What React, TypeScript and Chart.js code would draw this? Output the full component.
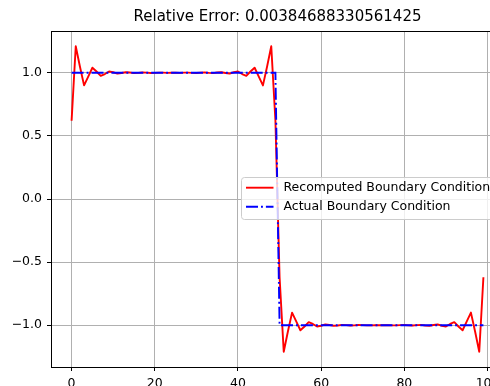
import React, { useEffect, useRef } from "react";
import { Chart, registerables } from "chart.js";

Chart.register(...registerables);

const TITLE = "Relative Error: 0.00384688330561425";
const LEGEND_LABELS = ["Recomputed Boundary Condition", "Actual Boundary Condition"];

const xPoints = [
  0, 1, 2, 3, 4, 5, 6, 7, 8, 9, 10, 11, 12, 13, 14, 15, 16, 17, 18, 19,
  20, 21, 22, 23, 24, 25, 26, 27, 28, 29, 30, 31, 32, 33, 34, 35, 36, 37, 38, 39,
  40, 41, 42, 43, 44, 45, 46, 47, 48, 49, 50, 51, 52, 53, 54, 55, 56, 57, 58, 59,
  60, 61, 62, 63, 64, 65, 66, 67, 68, 69, 70, 71, 72, 73, 74, 75, 76, 77, 78, 79,
  80, 81, 82, 83, 84, 85, 86, 87, 88, 89, 90, 91, 92, 93, 94, 95, 96, 97, 98, 99,
];

const recomputed = [
  0.62, 1.21, 1.05, 0.9, 0.97, 1.04, 1.01, 0.976, 0.99, 1.01,
  1.004, 0.994, 0.998, 1.004, 1.002, 0.997, 0.999, 1.002, 1.001, 0.998,
  0.999, 1.001, 1.001, 0.999, 1.0, 1.0, 0.999, 1.001, 1.001, 0.999,
  0.998, 1.001, 1.002, 0.999, 0.997, 1.002, 1.004, 0.998, 0.994, 1.004,
  1.01, 0.99, 0.976, 1.01, 1.04, 0.97, 0.9, 1.05, 1.21, 0.62,
  -0.62, -1.21, -1.05, -0.9, -0.97, -1.04, -1.01, -0.976, -0.99, -1.01,
  -1.004, -0.994, -0.998, -1.004, -1.002, -0.997, -0.999, -1.002, -1.001, -0.998,
  -0.999, -1.001, -1.001, -0.999, -1.0, -1.0, -0.999, -1.001, -1.001, -0.999,
  -0.998, -1.001, -1.002, -0.999, -0.997, -1.002, -1.004, -0.998, -0.994, -1.004,
  -1.01, -0.99, -0.976, -1.01, -1.04, -0.97, -0.9, -1.05, -1.21, -0.62,
];

const actual = [
  1, 1, 1, 1, 1, 1, 1, 1, 1, 1, 1, 1, 1, 1, 1, 1, 1, 1, 1, 1,
  1, 1, 1, 1, 1, 1, 1, 1, 1, 1, 1, 1, 1, 1, 1, 1, 1, 1, 1, 1,
  1, 1, 1, 1, 1, 1, 1, 1, 1, 1,
  -1, -1, -1, -1, -1, -1, -1, -1, -1, -1, -1, -1, -1, -1, -1, -1, -1, -1, -1, -1,
  -1, -1, -1, -1, -1, -1, -1, -1, -1, -1, -1, -1, -1, -1, -1, -1, -1, -1, -1, -1,
  -1, -1, -1, -1, -1, -1, -1, -1, -1, -1,
];

const xTicks = [0, 20, 40, 60, 80, 100];
const xTickLabels = ["0", "20", "40", "60", "80", "100"];
const yTicks = [-1, -0.5, 0, 0.5, 1];
const yTickLabels = ["\u22121.0", "\u22120.5", "0.0", "0.5", "1.0"];

const FONT = "'DejaVu Sans', 'Liberation Sans', sans-serif";
const RED = "#ff0000";
const BLUE = "#0000ff";
const DASHDOT = [12, 3, 1.9, 3];

const overlayPlugin = {
  id: "overlay",
  afterDraw(chart: any) {
    const ctx = chart.ctx as CanvasRenderingContext2D;
    const a = chart.chartArea;
    ctx.save();
    // top and right spines
    ctx.strokeStyle = "#000";
    ctx.lineWidth = 1;
    ctx.beginPath();
    ctx.moveTo(a.left, Math.round(a.top) + 0.5);
    ctx.lineTo(a.right, Math.round(a.top) + 0.5);
    ctx.moveTo(Math.round(a.right) + 0.5, a.top);
    ctx.lineTo(Math.round(a.right) + 0.5, a.bottom);
    ctx.stroke();

    // title
    ctx.fillStyle = "#000";
    ctx.font = `15px ${FONT}`;
    ctx.textAlign = "center";
    ctx.textBaseline = "alphabetic";
    ctx.fillText(TITLE, (a.left + a.right) / 2, 21);

    // legend
    ctx.font = `12.5px ${FONT}`;
    const boxLeft = 241.5;
    const boxTop = 177.5;
    const boxBottom = 219.5;
    const textX = 283.5;
    const widest = Math.max(...LEGEND_LABELS.map((l) => ctx.measureText(l).width));
    const boxRight = textX + widest + 5;
    const r = 3;
    ctx.beginPath();
    ctx.moveTo(boxLeft + r, boxTop);
    ctx.lineTo(boxRight - r, boxTop);
    ctx.arcTo(boxRight, boxTop, boxRight, boxTop + r, r);
    ctx.lineTo(boxRight, boxBottom - r);
    ctx.arcTo(boxRight, boxBottom, boxRight - r, boxBottom, r);
    ctx.lineTo(boxLeft + r, boxBottom);
    ctx.arcTo(boxLeft, boxBottom, boxLeft, boxBottom - r, r);
    ctx.lineTo(boxLeft, boxTop + r);
    ctx.arcTo(boxLeft, boxTop, boxLeft + r, boxTop, r);
    ctx.closePath();
    ctx.fillStyle = "rgba(255,255,255,0.8)";
    ctx.fill();
    ctx.strokeStyle = "#cccccc";
    ctx.lineWidth = 1;
    ctx.stroke();

    const rows = [187.7, 206.7];
    const colors = [RED, BLUE];
    const dashes = [[], DASHDOT];
    for (let i = 0; i < 2; i++) {
      ctx.beginPath();
      ctx.setLineDash(dashes[i]);
      ctx.strokeStyle = colors[i];
      ctx.lineWidth = 1.9;
      ctx.moveTo(246, rows[i]);
      ctx.lineTo(273.5, rows[i]);
      ctx.stroke();
      ctx.setLineDash([]);
      ctx.fillStyle = "#000";
      ctx.textAlign = "left";
      ctx.textBaseline = "middle";
      ctx.fillText(LEGEND_LABELS[i], textX, rows[i] + 0.5);
    }
    ctx.restore();
  },
};

export default function App() {
  const canvasRef = useRef<HTMLCanvasElement | null>(null);

  useEffect(() => {
    const canvas = canvasRef.current;
    if (!canvas) return;
    const chart = new Chart(canvas, {
      type: "line",
      data: {
        datasets: [
          {
            label: LEGEND_LABELS[0],
            data: xPoints.map((x, i) => ({ x, y: recomputed[i] })),
            borderColor: RED,
            borderWidth: 1.9,
            pointRadius: 0,
            tension: 0,
            fill: false,
            borderJoinStyle: "round",
            order: 1,
          },
          {
            label: LEGEND_LABELS[1],
            data: xPoints.map((x, i) => ({ x, y: actual[i] })),
            borderColor: BLUE,
            borderWidth: 1.9,
            borderDash: DASHDOT,
            pointRadius: 0,
            tension: 0,
            fill: false,
            order: 0,
          },
        ],
      },
      options: {
        responsive: false,
        animation: false,
        layout: { padding: { left: 0, top: 31, right: 16, bottom: 0 } },
        plugins: {
          legend: { display: false },
          title: { display: false },
          tooltip: { enabled: false },
        },
        scales: {
          x: {
            type: "linear",
            min: -4.95,
            max: 103.95,
            afterFit: (s: any) => {
              s.height = 19;
            },
            afterBuildTicks: (s: any) => {
              s.ticks = xTicks.map((v) => ({ value: v }));
            },
            ticks: {
              autoSkip: false,
              maxRotation: 0,
              padding: 5,
              color: "#000",
              font: { family: FONT, size: 12.5 },
              callback: (_v: any, i: number) => xTickLabels[i],
            },
            grid: { color: "#b0b0b0", lineWidth: 1, tickLength: 4, tickColor: "#000", drawTicks: true },
            border: { color: "#000", width: 1 },
          },
          y: {
            type: "linear",
            min: -1.331,
            max: 1.331,
            afterFit: (s: any) => {
              s.width = 51;
            },
            afterBuildTicks: (s: any) => {
              s.ticks = yTicks.map((v) => ({ value: v }));
            },
            ticks: {
              autoSkip: false,
              padding: 5,
              color: "#000",
              font: { family: FONT, size: 12.5 },
              callback: (_v: any, i: number) => yTickLabels[i],
            },
            grid: { color: "#b0b0b0", lineWidth: 1, tickLength: 4, tickColor: "#000", drawTicks: true },
            border: { color: "#000", width: 1 },
          },
        },
      },
      plugins: [overlayPlugin],
    } as any);
    return () => chart.destroy();
  }, []);

  return (
    <div
      style={{
        position: "fixed",
        left: 0,
        top: 0,
        width: 490,
        height: 386,
        overflow: "hidden",
        background: "#fff",
      }}
    >
      <canvas ref={canvasRef} width={520} height={386} style={{ width: 520, height: 386, display: "block" }} />
    </div>
  );
}
